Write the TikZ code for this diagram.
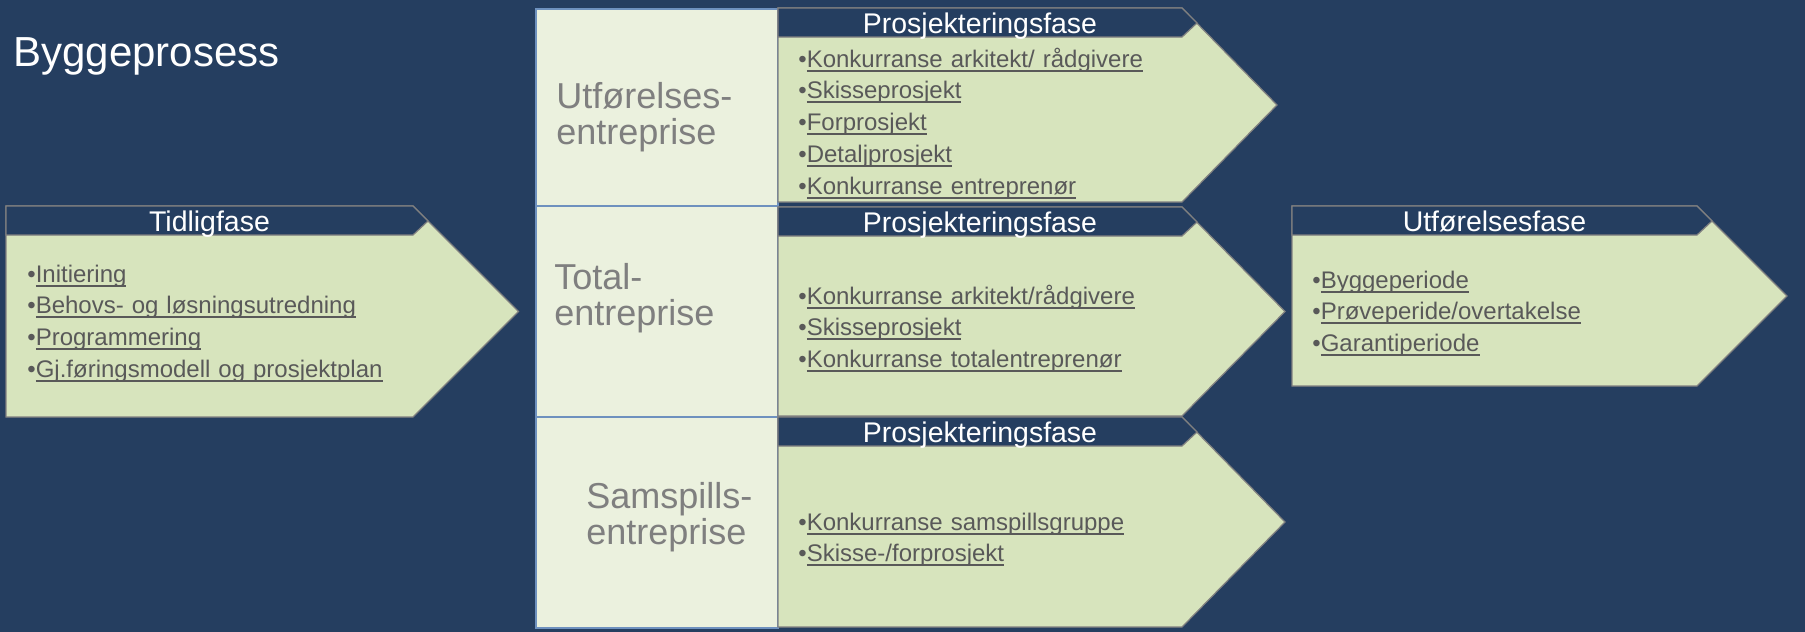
\documentclass[tikz,border=0pt]{standalone}
\usepackage{fontspec}
\setmainfont{Liberation Sans}
\usepackage{tikz}
\usetikzlibrary{calc}
\definecolor{bgblue}{RGB}{37,62,96}
\definecolor{phasegreen}{RGB}{215,228,189}
\definecolor{cellgreen}{RGB}{235,241,222}
\definecolor{edgegrey}{RGB}{128,128,128}
\definecolor{itemgrey}{RGB}{89,89,89}
\definecolor{labelgrey}{RGB}{127,127,127}
\definecolor{cellline}{RGB}{110,145,190}
\tikzstyle{phase} = [fill=phasegreen, draw=edgegrey, line width=0.7pt]
\tikzstyle{band} = [fill=bgblue, draw=edgegrey, line width=0.7pt]
\tikzstyle{cell} = [fill=cellgreen, draw=cellline, line width=0.6pt]
\tikzstyle{head} = [anchor=base, inner sep=0pt, text=white, font=\fontsize{16.2pt}{19pt}\selectfont]
\tikzstyle{items} = [anchor=base west, inner sep=0pt, text=itemgrey, text width=12cm, align=left, font=\fontsize{13.66pt}{18.1pt}\selectfont]
\tikzstyle{kind} = [anchor=base west, inner sep=0pt, text=labelgrey, text width=6cm, align=left, font=\fontsize{20.5pt}{21.05pt}\selectfont]
\newcommand{\lnk}[1]{\setbox0=\hbox{#1}\rlap{\rule[-0.19em]{\wd0}{0.085em}}\box0}

\begin{document}
\begin{tikzpicture}[x=0.02cm, y=-0.02cm]
		\fill[bgblue] (0,0) rectangle (1805,632);
		\useasboundingbox (0,0) rectangle (1805,632);
		
		\node (Title) [anchor=base west, inner sep=0pt, text=white, font=\fontsize{23.9pt}{28pt}\selectfont] at (13,66) {Byggeprosess};
		
		% entreprise column
		\draw[cell] (536,9) rectangle (778,206);
		\draw[cell] (536,206) rectangle (778,417);
		\draw[cell] (536,417) rectangle (778,628);
		\node (UtfKind) [kind] at (556,108) {Utførelses-\\entreprise};
		\node (TotalKind) [kind] at (554,289) {Total-\\entreprise};
		\node (SamKind) [kind] at (586,508) {Samspills-\\entreprise};
		
		% Tidligfase
		\draw[phase] (6,206) -- (413,206) -- (518.5,311.5) -- (413,417) -- (6,417) -- cycle;
		\draw[band] (6,206) -- (413,206) -- (428,221) -- (413,235) -- (6,235) -- cycle;
		\node (TidligHead) [head] at (209.5,231) {Tidligfase};
		\node (TidligItems) [items] at (27,282) {•\lnk{Initiering}\\•\lnk{Behovs- og løsningsutredning}\\•\lnk{Programmering}\\•\lnk{Gj.føringsmodell og prosjektplan}};
		
		% Prosjekteringsfase
		\draw[phase] (778,8) -- (1182,8) -- (1277,105) -- (1182,202) -- (778,202) -- cycle;
		\draw[band] (778,8) -- (1182,8) -- (1197,23) -- (1182,37) -- (778,37) -- cycle;
		\node (ProjHeadA) [head] at (980,33) {Prosjekteringsfase};
		\node (ProjItemsA) [items] at (798,67) {•\lnk{Konkurranse arkitekt/ rådgivere}\\•\lnk{Skisseprosjekt}\\•\lnk{Forprosjekt}\\•\lnk{Detaljprosjekt}\\•\lnk{Konkurranse entreprenør}};
		
		\draw[phase] (778,207) -- (1182,207) -- (1285,311.5) -- (1182,416) -- (778,416) -- cycle;
		\draw[band] (778,207) -- (1182,207) -- (1197,222) -- (1182,236) -- (778,236) -- cycle;
		\node (ProjHeadB) [head] at (980,232) {Prosjekteringsfase};
		\node (ProjItemsB) [items] at (798,304) {•\lnk{Konkurranse arkitekt/rådgivere}\\•\lnk{Skisseprosjekt}\\•\lnk{Konkurranse totalentreprenør}};
		
		\draw[phase] (778,417) -- (1182,417) -- (1285,522) -- (1182,627) -- (778,627) -- cycle;
		\draw[band] (778,417) -- (1182,417) -- (1197,432) -- (1182,446) -- (778,446) -- cycle;
		\node (ProjHeadC) [head] at (980,442) {Prosjekteringsfase};
		\node (ProjItemsC) [items] at (798,530) {•\lnk{Konkurranse samspillsgruppe}\\•\lnk{Skisse-/forprosjekt}};
		
		% Utførelsesfase
		\draw[phase] (1292,206) -- (1697,206) -- (1787,296) -- (1697,386) -- (1292,386) -- cycle;
		\draw[band] (1292,206) -- (1697,206) -- (1712,221) -- (1697,235) -- (1292,235) -- cycle;
		\node (UtfHead) [head] at (1494.5,231) {Utførelsesfase};
		\node (UtfItems) [items] at (1312,288) {•\lnk{Byggeperiode}\\•\lnk{Prøveperide/overtakelse}\\•\lnk{Garantiperiode}};
\end{tikzpicture}
\end{document}
